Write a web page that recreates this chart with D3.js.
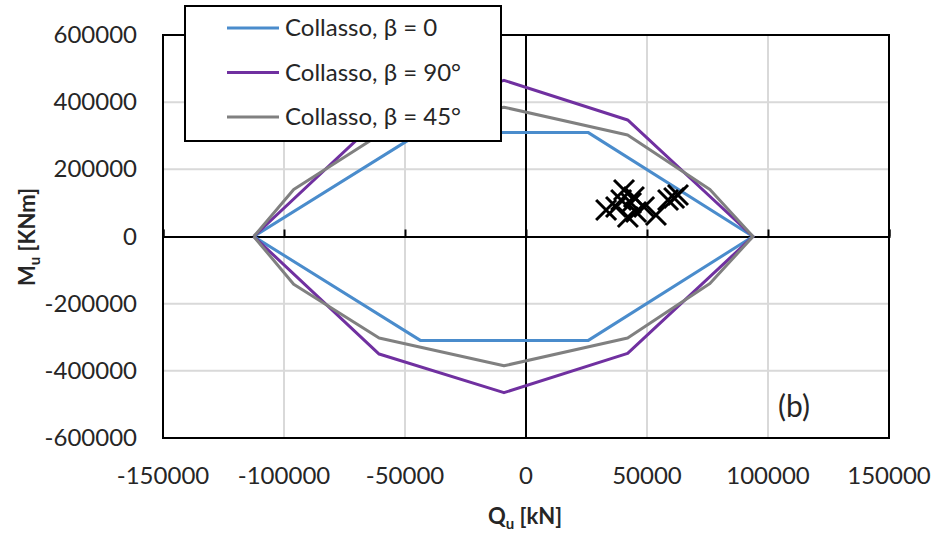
<!DOCTYPE html>
<html><head><meta charset="utf-8">
<script src="https://cdn.jsdelivr.net/npm/d3@7"></script>
<style>body{margin:0;background:#fff}svg{display:block}text{font-family:Lato,"Open Sans",sans-serif;fill:#262626}</style>
</head><body><svg id="c" width="936" height="533"></svg>
<script>
const xTicks=[-150000,-100000,-50000,0,50000,100000,150000];
const yTicks=[-600000,-400000,-200000,0,200000,400000,600000];
const seriesNames=["Collasso, β = 0","Collasso, β = 90°","Collasso, β = 45°"];
const seriesColors=["#4a8ccc","#7030a0","#808080"];
const beta0=[[-112500,0],[-43500,310000],[25600,310000],[93800,0],[25600,-310000],[-43500,-310000],[-112500,0]];
const beta90=[[-112500,0],[-60700,350000],[-9100,465000],[42000,347000],[93800,0],[42000,-348000],[-9100,-465000],[-60700,-350000],[-112500,0]];
const beta45=[[-112500,0],[-96000,140000],[-60700,302000],[-9100,385000],[42000,302000],[76000,140000],[93800,0],[76000,-140000],[42000,-302000],[-9100,-385000],[-60700,-302000],[-96000,-142000],[-112500,0]];
const pointsQ=[33100,40500,39300,43400,42100,45500,48800,53700,58700,61200,62800,37200,44600];
const pointsM=[78900,138400,108700,99700,58000,72900,87800,64000,108700,114600,123500,87800,117600];

const svg=d3.select("#c");
const L=163,R=889,T=35,B=438;
const x=d3.scaleLinear().domain([-150000,150000]).range([L,R]);
const y=d3.scaleLinear().domain([-600000,600000]).range([B,T]);

// gridlines
svg.append("g").selectAll("line").data(xTicks.filter(d=>d!==0&&Math.abs(d)<150000)).join("line")
  .attr("x1",d=>x(d)).attr("x2",d=>x(d)).attr("y1",T).attr("y2",B).attr("stroke","#d9d9d9").attr("stroke-width",2);
svg.append("g").selectAll("line").data(yTicks.filter(d=>d!==0&&Math.abs(d)<600000)).join("line")
  .attr("y1",d=>y(d)).attr("y2",d=>y(d)).attr("x1",L).attr("x2",R).attr("stroke","#d9d9d9").attr("stroke-width",2);

// axes at zero
const xAxis=d3.axisTop(x).tickValues(xTicks).tickSize(7).tickFormat("");
svg.append("g").attr("transform",`translate(0,${y(0)})`).call(xAxis)
  .call(g=>{g.select(".domain").attr("stroke","#000").attr("stroke-width",2);g.selectAll(".tick line").attr("stroke","#000").attr("stroke-width",2);});
svg.append("line").attr("x1",x(0)).attr("x2",x(0)).attr("y1",T).attr("y2",B).attr("stroke","#000").attr("stroke-width",2);

// tick labels
svg.append("g").selectAll("text").data(xTicks).join("text")
  .attr("x",d=>x(d)).attr("y",484).attr("text-anchor","middle").style("font-size","24px").text(d=>d);
svg.append("g").selectAll("text").data(yTicks).join("text")
  .attr("x",137).attr("y",d=>y(d)+8).attr("text-anchor","end").style("font-size","24px").text(d=>d);

// lines
const line=d3.line().x(d=>x(d[0])).y(d=>y(d[1]));
[beta0,beta90,beta45].forEach((s,i)=>{
  svg.append("path").datum(s).attr("d",line).attr("fill","none").attr("stroke",seriesColors[i]).attr("stroke-width",3).attr("stroke-linejoin","round");
});

// scatter
const pts=pointsQ.map((q,i)=>[q,pointsM[i]]);
const s=10;
svg.append("g").selectAll("path").data(pts).join("path")
  .attr("d",d=>{const cx=x(d[0]),cy=y(d[1]);return `M${cx-s},${cy-s}L${cx+s},${cy+s}M${cx-s},${cy+s}L${cx+s},${cy-s}`;})
  .attr("stroke","#000").attr("stroke-width",3).attr("fill","none");

// border
svg.append("rect").attr("x",L).attr("y",T).attr("width",R-L).attr("height",B-T).attr("fill","none").attr("stroke","#000").attr("stroke-width",2);

// legend
const lg=svg.append("g");
lg.append("rect").attr("x",185).attr("y",6).attr("width",316).attr("height",135).attr("fill","#fff").attr("stroke","#000").attr("stroke-width",2);
seriesNames.forEach((n,i)=>{
  const yy=28+i*44.5;
  lg.append("line").attr("x1",227).attr("x2",279).attr("y1",yy).attr("y2",yy).attr("stroke",seriesColors[i]).attr("stroke-width",3);
  lg.append("text").attr("x",285).attr("y",yy+8).style("font-size","24px").text(n);
});

// axis titles
const xt=svg.append("text").attr("x",525).attr("y",524).attr("text-anchor","middle").style("font-size","22px").style("font-weight","bold");
xt.append("tspan").text("Q");
xt.append("tspan").attr("dy",5).style("font-size","15px").text("u");
xt.append("tspan").attr("dy",-5).text(" [kN]");
const yt=svg.append("text").attr("transform","translate(35,237) rotate(-90)").attr("text-anchor","middle").style("font-size","22px").style("font-weight","bold");
yt.append("tspan").text("M");
yt.append("tspan").attr("dy",5).style("font-size","15px").text("u");
yt.append("tspan").attr("dy",-5).text(" [KNm]");

svg.append("text").attr("x",794).attr("y",417).attr("text-anchor","middle").style("font-size","30px").text("(b)");
</script></body></html>
